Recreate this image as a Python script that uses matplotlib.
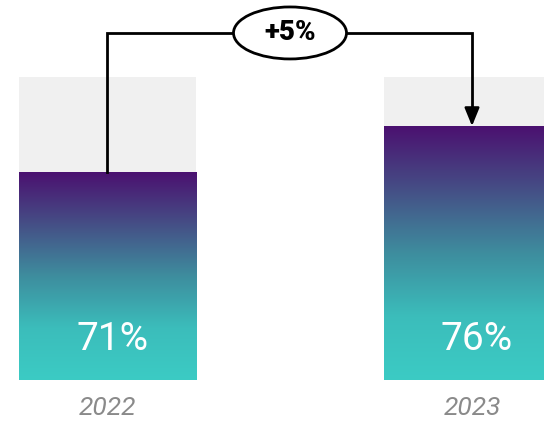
import numpy as np
import matplotlib.pyplot as plt
from matplotlib.colors import LinearSegmentedColormap
from matplotlib.patches import Ellipse, Rectangle

years = ['2022', '2023']
values = [71, 76]
change_label = '+5%'

track_top = 81.3   # light grey track behind the bars
base = 48.4        # value at the bar bottom

cmap = LinearSegmentedColormap.from_list(
    'bar', ['#3ccbc4', '#3bbdbb', '#3e8d9e', '#454f86', '#4b1170'])

fig = plt.figure(figsize=(5.44, 4.22), dpi=100)
ax = fig.add_axes([0, 0, 1, 1])
ax.axis('off')

w = 0.4856
x = np.arange(len(values))
grad = np.linspace(0, 1, 256).reshape(-1, 1)

for i, v in enumerate(values):
    ax.add_patch(Rectangle((x[i] - w / 2, base), w, track_top - base,
                           facecolor='#f0f0f0', edgecolor='none', zorder=1))
    ax.imshow(grad, cmap=cmap, origin='lower', aspect='auto',
              extent=[x[i] - w / 2, x[i] + w / 2, base, v], zorder=2)
    ax.text(x[i] + 0.013, base + 4.4, f'{v}%', color='white', fontsize=28,
            family='Roboto', fontweight='normal', ha='center', va='center', zorder=3)
    ax.text(x[i], base - 3.0, years[i], color='#8a8a8a', fontsize=19,
            family='Roboto', fontweight='normal', style='italic',
            ha='center', va='center')

ax.set_xlim(-0.2949, 1.1975)
ax.set_ylim(43.83, 89.7)

# connector from 2022 bar to 2023 bar
y_line = 48.4 + (380 - 33) / 9.2
ax.plot([x[0], x[0], x[1], x[1]], [values[0], y_line, y_line, values[1] + 1.75],
        color='black', lw=2, zorder=4, solid_joinstyle='miter')
ax.annotate('', xy=(x[1], values[1]), xytext=(x[1], values[1] + 1.8),
            arrowprops=dict(arrowstyle='-|>,head_length=1.1,head_width=0.45',
                            color='black', lw=1.8, shrinkA=0, shrinkB=0), zorder=5)

xm = (290 - 107.5) / 364.5
ax.add_patch(Ellipse((xm, y_line), 113 / 364.5, 52 / 9.2, facecolor='white',
                     edgecolor='black', lw=2, zorder=6))
ax.text(xm, y_line, change_label, fontsize=20, fontweight='black', family='Roboto',
        ha='center', va='center', zorder=7)

fig.savefig('out.png', dpi=100)
